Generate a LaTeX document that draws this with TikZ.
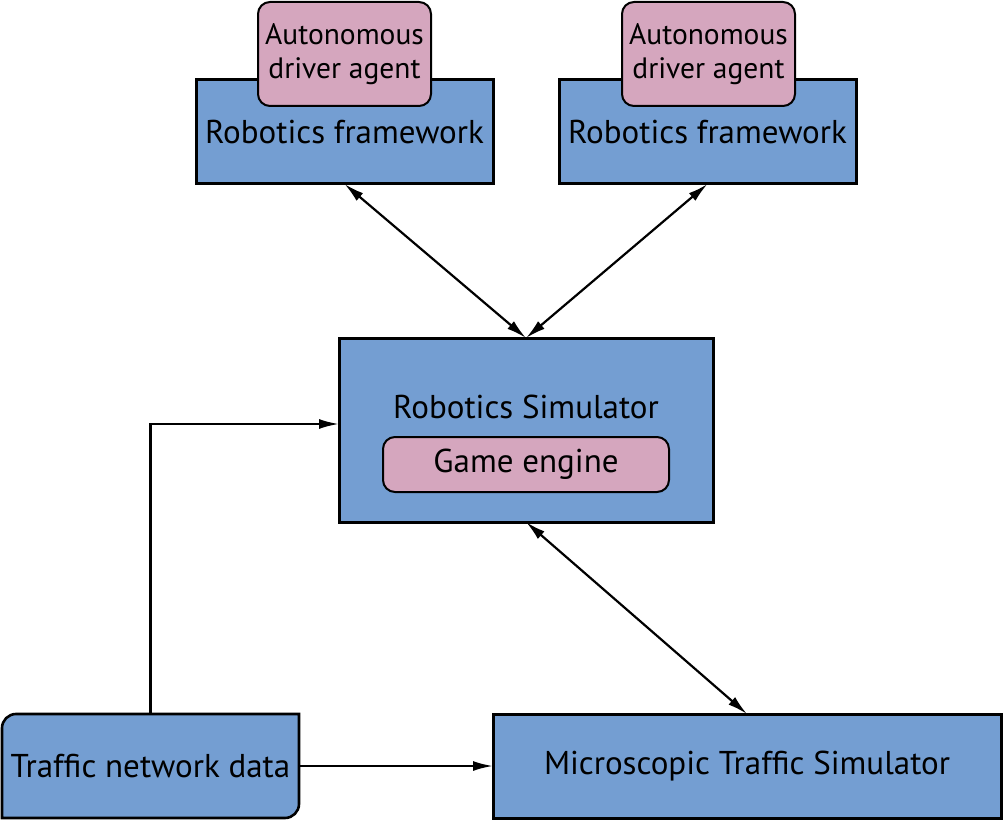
\documentclass[tikz,border=0pt]{standalone}
\usepackage{fontspec}
\setmainfont{PT Sans}
\usetikzlibrary{arrows.meta,positioning,backgrounds}
\definecolor{boxblue}{RGB}{116,158,210}
\definecolor{boxpink}{RGB}{213,166,190}

\begin{document}
\begin{tikzpicture}[x=1pt,y=-1pt,
  every node/.style={outer sep=0pt, inner sep=0pt, font=\fontsize{33}{36}\selectfont},
  block/.style={draw=black, line width=3pt, fill=boxblue},
  part/.style={draw=black, line width=2pt, fill=boxpink, rounded corners=12pt},
  link/.style={line width=2.2pt, {Latex[length=20pt,width=10pt]}-{Latex[length=20pt,width=10pt]}},
  feed/.style={line width=2.2pt, -{Latex[length=20pt,width=10pt]}}]
\useasboundingbox (0,0) rectangle (1004,821);

% Robotics frameworks with their driver agents
\node[block, minimum width=297pt, minimum height=104pt] (frameL) at (344.5,132) {Robotics framework};
\node[part, minimum width=173pt, minimum height=104pt, align=center,
      font=\fontsize{29.5}{34}\selectfont] (agentL) at (344.5,54) {Autonomous\\driver agent};
\node[block, minimum width=297pt, minimum height=104pt] (frameR) at (707.5,132) {Robotics framework};
\node[part, minimum width=173pt, minimum height=104pt, align=center,
      font=\fontsize{29.5}{34}\selectfont] (agentR) at (708.5,54) {Autonomous\\driver agent};

% Robotics simulator
\node[block, minimum width=374pt, minimum height=184pt] (sim) at (526,430) {};
\node (simText) at (526,407) {Robotics Simulator};
\node[part, minimum width=286pt, minimum height=55pt] (engine) at (526,464.5) {Game engine};

% Bottom row
\node[block, minimum width=508pt, minimum height=104pt] (micro) at (747,766) {Microscopic Traffic Simulator};
\node[minimum width=297pt, minimum height=104pt] (tnd) at (150.5,766) {Traffic network data};
\begin{scope}[on background layer]
\draw[block, line width=2.6pt] (tnd.south west) -- ([yshift=-14pt]tnd.north west)
  .. controls +(0,7.7pt) and +(-7.7pt,0) .. ([xshift=14pt]tnd.north west)
  -- (tnd.north east) -- ([yshift=14pt]tnd.south east)
  .. controls +(0,-7.7pt) and +(7.7pt,0) .. ([xshift=-14pt]tnd.south east) -- cycle;
\end{scope}

% Connectors
\draw[link] (frameL.south) -- (sim.north);
\draw[link] (frameR.south) -- (sim.north);
\draw[link] (sim.south) -- (micro.north);
\draw[feed] (tnd.north) |- ([yshift=6pt]sim.west);
\draw[feed] (tnd.east) -- (micro.west);
\end{tikzpicture}
\end{document}
